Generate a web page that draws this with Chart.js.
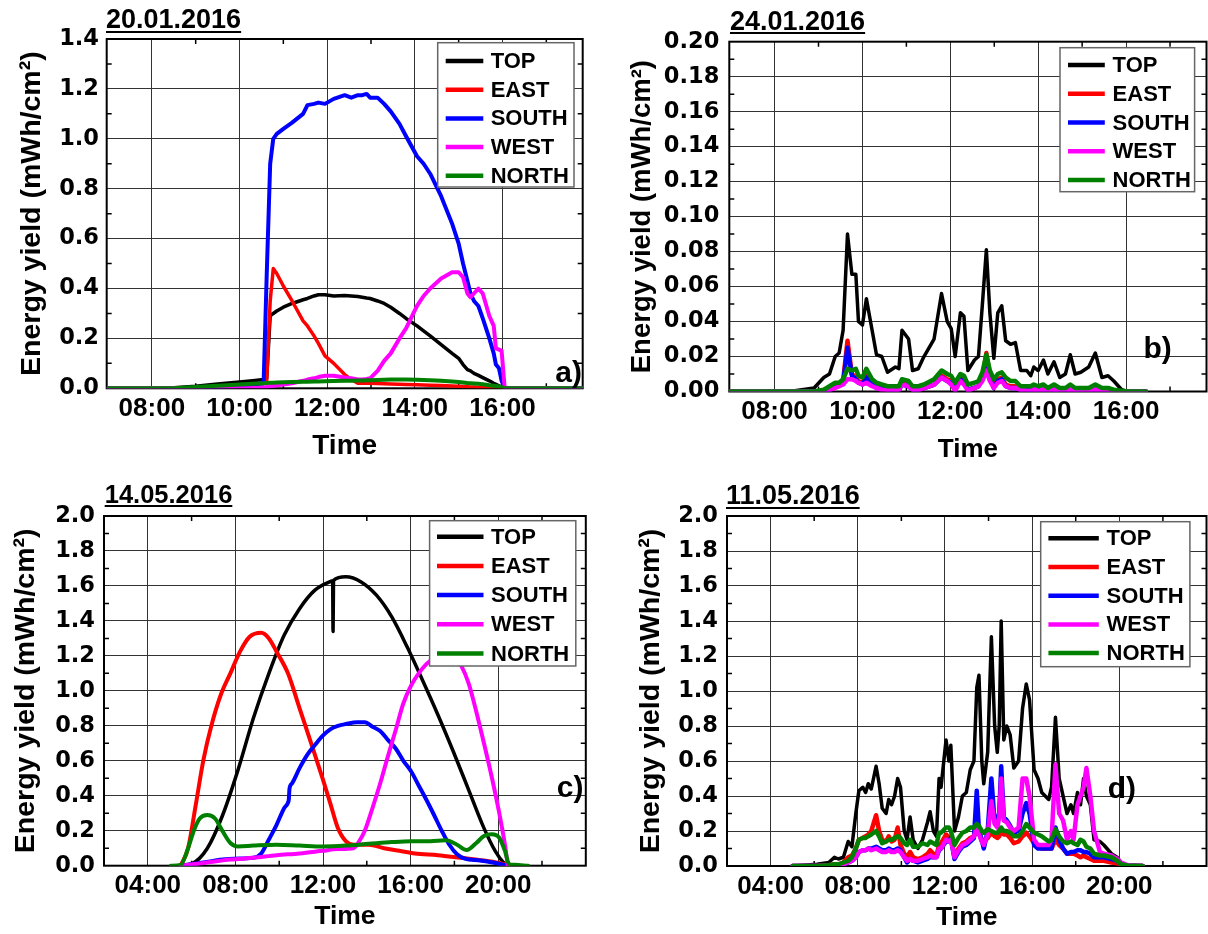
<!DOCTYPE html>
<html><head><meta charset="utf-8">
<script src="https://cdn.jsdelivr.net/npm/chart.js@4.4.0/dist/chart.umd.min.js"></script>
<style>
html,body{margin:0;padding:0;background:#fff;}
#wrap{position:relative;width:1208px;height:934px;overflow:hidden;background:#fff;}
canvas{position:absolute;}
</style></head><body><div id="wrap">
<canvas id="ca" width="604" height="467" style="left:0;top:0"></canvas>
<canvas id="cb" width="604" height="467" style="left:604px;top:0"></canvas>
<canvas id="cc" width="604" height="467" style="left:0;top:467px"></canvas>
<canvas id="cd" width="604" height="467" style="left:604px;top:467px"></canvas>
</div>
<script>
// ---------- labels ----------
const SERIES = ['TOP','EAST','SOUTH','WEST','NORTH'];
const COLORS = ['#000000','#ff0000','#0000ff','#ff00ff','#008000'];
const X_TICKS_JAN = [8,10,12,14,16];
const X_LABELS_JAN = ['08:00','10:00','12:00','14:00','16:00'];
const X_TICKS_MAY = [4,8,12,16,20];
const X_LABELS_MAY = ['04:00','08:00','12:00','16:00','20:00'];
const Y_TICKS_A = [0,0.2,0.4,0.6,0.8,1.0,1.2,1.4];
const Y_LABELS_A = ['0.0','0.2','0.4','0.6','0.8','1.0','1.2','1.4'];
const Y_TICKS_B = [0,0.02,0.04,0.06,0.08,0.10,0.12,0.14,0.16,0.18,0.20];
const Y_LABELS_B = ['0.00','0.02','0.04','0.06','0.08','0.10','0.12','0.14','0.16','0.18','0.20'];
const Y_TICKS_CD = [0,0.2,0.4,0.6,0.8,1.0,1.2,1.4,1.6,1.8,2.0];
const Y_LABELS_CD = ['0.0','0.2','0.4','0.6','0.8','1.0','1.2','1.4','1.6','1.8','2.0'];

// ---------- panel a) 20.01.2016 (time in hours) ----------
const aTime = [7.0,8.5,9.0,9.5,10.0,10.3,10.55,10.62,10.7,10.77,
  10.85,11.0,11.2,11.45,11.55,11.7,11.8,11.95,12.15,12.4,
  12.55,12.7,12.8,12.9,12.98,13.15,13.3,13.45,13.65,13.8,
  14.05,14.2,14.35,14.6,14.85,15.0,15.1,15.2,15.27,15.35,
  15.45,15.55,15.7,15.8,15.85,15.92,15.98,16.05,16.5,17.83];
const aTop = [0,0.002,0.008,0.017,0.025,0.03,0.035,0.04,0.29,0.30,
  0.31,0.325,0.34,0.355,0.36,0.37,0.375,0.375,0.37,0.372,
  0.37,0.368,0.365,0.362,0.36,0.35,0.34,0.325,0.30,0.28,
  0.25,0.23,0.21,0.175,0.14,0.12,0.095,0.075,0.07,0.06,
  0.052,0.043,0.03,0.02,0.016,0.01,0.005,0,0,0];
const aEast = [0,0,0.003,0.008,0.012,0.015,0.018,0.03,0.35,0.48,
  0.46,0.41,0.35,0.27,0.25,0.21,0.18,0.13,0.1,0.055,
  0.035,0.02,0.02,0.02,0.02,0.019,0.018,0.017,0.016,0.015,
  0.014,0.013,0.012,0.011,0.009,0.008,0.007,0.006,0.005,0.005,
  0.004,0.003,0.002,0.002,0.001,0.001,0,0,0,0];
const aSouth = [0,0,0.002,0.005,0.01,0.015,0.02,0.45,0.9,1.0,
  1.02,1.04,1.065,1.1,1.135,1.14,1.145,1.14,1.16,1.175,
  1.165,1.175,1.175,1.18,1.165,1.165,1.14,1.11,1.06,1.01,
  0.93,0.9,0.86,0.77,0.66,0.58,0.5,0.43,0.38,0.35,
  0.33,0.28,0.2,0.14,0.095,0.08,0.03,0,0,0];
const aWest = [0,0,0,0,0,0,0.003,0.005,0.008,0.01,
  0.012,0.015,0.02,0.03,0.035,0.04,0.045,0.05,0.05,0.043,
  0.04,0.035,0.035,0.037,0.04,0.07,0.11,0.14,0.2,0.24,
  0.33,0.37,0.4,0.44,0.465,0.465,0.445,0.38,0.365,0.38,
  0.4,0.38,0.29,0.25,0.16,0.155,0.15,0,0,0];
const aNorth = [0,0,0.005,0.01,0.015,0.018,0.02,0.021,0.022,0.022,
  0.023,0.024,0.025,0.026,0.026,0.027,0.027,0.028,0.029,0.03,
  0.03,0.031,0.031,0.032,0.032,0.033,0.034,0.035,0.035,0.035,
  0.034,0.033,0.032,0.03,0.027,0.025,0.023,0.021,0.02,0.019,
  0.018,0.016,0.012,0.01,0.009,0.007,0.005,0,0,0];

// ---------- panel b) 24.01.2016 ----------
const bTime = [7.0,8.0,8.46,8.9,9.12,9.25,9.38,9.47,9.56,9.66,
  9.76,9.85,9.91,10.0,10.09,10.22,10.32,10.44,10.57,10.75,
  10.83,10.9,11.05,11.14,11.27,11.4,11.63,11.8,11.93,12.02,
  12.11,12.23,12.31,12.4,12.55,12.64,12.73,12.82,12.9,12.99,
  13.08,13.17,13.26,13.37,13.48,13.6,13.74,13.83,13.9,14.0,
  14.12,14.22,14.36,14.49,14.62,14.73,14.84,14.97,15.15,15.3,
  15.45,15.59,15.72,15.9,16.03,16.45];
const bTop = [0,0,0.0005,0.002,0.008,0.01,0.02,0.022,0.035,0.09,
  0.067,0.067,0.04,0.038,0.053,0.035,0.021,0.02,0.011,0.014,
  0.013,0.035,0.03,0.012,0.013,0.02,0.03,0.056,0.04,0.036,
  0.02,0.045,0.043,0.012,0.018,0.02,0.05,0.081,0.045,0.019,
  0.045,0.049,0.029,0.027,0.028,0.012,0.012,0.009,0.014,0.012,
  0.018,0.01,0.017,0.008,0.01,0.021,0.01,0.011,0.014,0.022,
  0.008,0.009,0.006,0.001,0,0];
const bEast = [0,0,0,0,0,0.001,0.003,0.004,0.006,0.029,
  0.01,0.008,0.006,0.005,0.009,0.005,0.003,0.002,0.001,0.001,
  0.001,0.005,0.004,0.001,0.001,0.002,0.004,0.009,0.007,0.006,
  0.002,0.008,0.006,0.001,0.002,0.003,0.008,0.022,0.009,0.003,
  0.007,0.008,0.004,0.003,0.003,0.001,0.001,0.001,0.001,0.001,
  0.001,0.0005,0.001,0.0005,0.0005,0.001,0.0005,0.0005,0.0005,0.001,
  0.0005,0.0005,0,0,0,0];
const bSouth = [0,0,0,0,0,0.001,0.003,0.004,0.005,0.025,
  0.009,0.007,0.005,0.004,0.008,0.004,0.002,0.002,0.001,0.001,
  0.001,0.004,0.003,0.001,0.001,0.002,0.004,0.008,0.006,0.005,
  0.001,0.007,0.005,0.001,0.002,0.003,0.007,0.013,0.008,0.002,
  0.006,0.007,0.003,0.002,0.002,0.001,0.001,0.0005,0.001,0.0005,
  0.001,0.0005,0.001,0.0005,0.0005,0.001,0.0005,0.0005,0.0005,0.001,
  0.0005,0.0005,0,0,0,0];
const bWest = [0,0,0,0,0,0.001,0.002,0.003,0.004,0.007,
  0.007,0.006,0.005,0.004,0.005,0.003,0.002,0.001,0.001,0.001,
  0.001,0.004,0.003,0.001,0.001,0.002,0.004,0.008,0.006,0.004,
  0.0005,0.006,0.004,0.0005,0.002,0.003,0.006,0.012,0.006,0.002,
  0.005,0.006,0.003,0.002,0.002,0.001,0.0005,0.0005,0.001,0.0005,
  0.001,0.0005,0.001,0.0005,0.0005,0.001,0.0005,0.0005,0.0005,0.001,
  0.0005,0,0,0,0,0];
const bNorth = [0,0,0,0,0.001,0.003,0.005,0.005,0.007,0.013,
  0.012,0.013,0.009,0.008,0.013,0.007,0.005,0.004,0.003,0.003,
  0.003,0.007,0.006,0.003,0.003,0.004,0.007,0.012,0.01,0.009,
  0.005,0.01,0.009,0.004,0.005,0.006,0.011,0.021,0.012,0.007,
  0.01,0.011,0.008,0.006,0.006,0.003,0.003,0.003,0.004,0.003,
  0.004,0.002,0.004,0.002,0.002,0.004,0.002,0.002,0.002,0.004,
  0.002,0.002,0.001,0.0005,0,0];

// ---------- panel c) 14.05.2016 (each series has its own sample times) ----------
const cTopTime = [5.5,6.0,6.72,7.42,8.12,8.82,9.53,10.23,10.93,11.63,12.33,12.44,12.46,12.48,13.04,13.74,14.44,15.14,15.84,16.54,17.25,17.95,18.65,19.35,19.88,20.23,20.49];
const cTop = [0,0.01,0.1,0.29,0.548,0.843,1.1,1.319,1.47,1.576,1.625,1.63,1.34,1.632,1.652,1.623,1.547,1.423,1.252,1.062,0.862,0.653,0.434,0.215,0.08,0.02,0];
const cEastTime = [5.5,5.84,6.19,6.54,6.89,7.33,7.77,8.21,8.65,9.18,9.53,9.88,10.4,10.93,11.46,11.98,12.33,12.68,13.04,13.39,14.09,14.79,15.49,16.19,17.25,18.3,19.35,20.05,20.49];
const cEast = [0,0.1,0.348,0.605,0.795,0.976,1.1,1.224,1.309,1.332,1.3,1.224,1.1,0.9,0.7,0.5,0.358,0.215,0.14,0.12,0.12,0.1,0.085,0.07,0.06,0.045,0.03,0.015,0];
const cSouthTime = [5.5,6.37,7.42,7.95,8.82,9.18,9.53,9.88,10.23,10.4,10.44,10.47,10.58,10.93,11.28,11.63,11.98,12.33,12.68,13.04,13.56,13.91,14.26,14.61,14.96,15.32,15.67,16.02,16.37,16.72,17.07,17.42,17.77,18.12,18.47,19.18,19.88,20.4];
const cSouth = [0,0.015,0.035,0.04,0.045,0.07,0.15,0.234,0.33,0.36,0.38,0.44,0.47,0.558,0.634,0.69,0.742,0.78,0.8,0.81,0.82,0.82,0.795,0.77,0.72,0.67,0.6,0.54,0.459,0.377,0.29,0.2,0.12,0.065,0.04,0.03,0.015,0];
const cWestTime = [5.5,6.37,7.77,8.82,9.88,10.93,11.98,12.68,13.39,13.65,13.91,14.26,14.61,14.96,15.32,15.67,16.02,16.37,16.72,17.2,17.6,18.0,18.3,18.65,19.0,19.35,19.7,20.05,20.32,20.44];
const cWest = [0,0.012,0.035,0.045,0.06,0.07,0.085,0.095,0.1,0.14,0.2,0.33,0.47,0.624,0.776,0.929,1.03,1.1,1.153,1.2,1.22,1.2,1.147,1.043,0.881,0.7,0.51,0.3,0.11,0];
const cNorthTime = [5.05,5.5,5.84,6.1,6.37,6.72,7.07,7.42,7.77,8.12,8.82,9.88,10.93,11.98,13.04,14.09,15.14,16.02,16.9,17.6,18.12,18.56,19.0,19.35,19.7,20.05,20.32,20.49,20.75,21.37];
const cNorth = [0,0.005,0.1,0.2,0.27,0.29,0.27,0.196,0.13,0.11,0.115,0.12,0.115,0.11,0.115,0.125,0.135,0.14,0.14,0.145,0.12,0.09,0.13,0.17,0.18,0.16,0.08,0.01,0.005,0];

// ---------- panel d) 11.05.2016 ----------
const dTime = [5.01,6.13,6.67,6.93,7.11,7.34,7.56,7.73,7.91,8.05,
  8.23,8.36,8.48,8.62,8.84,8.98,9.12,9.3,9.42,9.55,
  9.69,9.83,9.96,10.13,10.26,10.4,10.54,10.76,10.97,11.2,
  11.32,11.47,11.61,11.73,11.82,12.05,12.18,12.27,12.44,12.62,
  12.8,12.98,13.16,13.33,13.46,13.56,13.69,13.78,13.96,14.13,
  14.28,14.4,14.49,14.58,14.7,14.84,14.99,15.16,15.38,15.56,
  15.73,15.88,16.09,16.27,16.44,16.76,16.89,17.07,17.24,17.42,
  17.6,17.78,17.9,18.08,18.22,18.36,18.49,18.67,18.84,19.11,
  19.29,19.64,19.9,20.08,20.36,21.07];
const dTop = [0,0.01,0.02,0.05,0.04,0.05,0.14,0.11,0.3,0.43,
  0.45,0.42,0.47,0.44,0.57,0.47,0.33,0.3,0.38,0.35,
  0.4,0.5,0.45,0.2,0.15,0.28,0.15,0.1,0.15,0.25,
  0.31,0.2,0.17,0.5,0.45,0.72,0.6,0.69,0.2,0.28,
  0.4,0.42,0.55,0.6,1.02,1.09,0.6,0.47,0.65,1.31,
  0.8,0.65,0.8,1.4,0.72,0.8,0.75,0.56,0.6,0.9,
  1.04,0.95,0.55,0.5,0.42,0.38,0.45,0.85,0.5,0.4,
  0.3,0.35,0.3,0.42,0.35,0.5,0.4,0.35,0.15,0.14,
  0.12,0.07,0.05,0.02,0.005,0];
const dEast = [0,0,0.005,0.01,0.01,0.02,0.05,0.06,0.1,0.15,
  0.16,0.17,0.18,0.2,0.29,0.2,0.15,0.14,0.17,0.14,
  0.15,0.22,0.12,0.07,0.05,0.08,0.05,0.04,0.05,0.07,
  0.09,0.07,0.06,0.12,0.13,0.18,0.16,0.17,0.05,0.1,
  0.13,0.14,0.16,0.17,0.2,0.2,0.14,0.14,0.16,0.19,
  0.17,0.16,0.17,0.2,0.18,0.18,0.16,0.13,0.14,0.17,
  0.19,0.17,0.13,0.11,0.1,0.1,0.1,0.15,0.12,0.1,
  0.07,0.07,0.07,0.06,0.05,0.06,0.05,0.04,0.03,0.03,
  0.03,0.02,0.015,0.01,0.003,0];
const dSouth = [0,0,0,0.005,0.005,0.01,0.02,0.03,0.05,0.08,
  0.09,0.09,0.1,0.1,0.11,0.1,0.09,0.09,0.1,0.09,
  0.09,0.1,0.09,0.05,0.02,0.04,0.03,0.02,0.03,0.04,
  0.05,0.05,0.05,0.09,0.1,0.14,0.14,0.16,0.04,0.08,
  0.11,0.12,0.14,0.16,0.43,0.2,0.15,0.1,0.2,0.5,
  0.25,0.27,0.3,0.57,0.28,0.26,0.23,0.19,0.2,0.3,
  0.36,0.3,0.12,0.1,0.1,0.1,0.1,0.22,0.15,0.1,
  0.07,0.08,0.08,0.09,0.09,0.08,0.08,0.07,0.05,0.05,
  0.05,0.04,0.03,0.01,0.003,0];
const dWest = [0,0,0,0.005,0.005,0.01,0.02,0.03,0.05,0.08,
  0.09,0.09,0.1,0.09,0.1,0.09,0.08,0.08,0.09,0.08,
  0.08,0.09,0.08,0.05,0.03,0.04,0.03,0.03,0.04,0.05,
  0.06,0.05,0.05,0.1,0.1,0.15,0.14,0.15,0.05,0.09,
  0.12,0.13,0.15,0.17,0.22,0.18,0.14,0.12,0.18,0.37,
  0.24,0.22,0.28,0.5,0.26,0.25,0.22,0.2,0.22,0.5,
  0.5,0.4,0.15,0.12,0.12,0.12,0.15,0.58,0.3,0.26,
  0.15,0.2,0.15,0.35,0.4,0.45,0.56,0.4,0.2,0.08,
  0.07,0.06,0.04,0.02,0.005,0];
const dNorth = [0,0,0.005,0.01,0.01,0.02,0.03,0.05,0.1,0.15,
  0.16,0.16,0.17,0.18,0.2,0.17,0.13,0.14,0.15,0.15,
  0.16,0.17,0.16,0.13,0.12,0.15,0.11,0.11,0.13,0.12,
  0.14,0.13,0.12,0.19,0.19,0.22,0.22,0.2,0.12,0.16,
  0.19,0.2,0.22,0.22,0.24,0.23,0.2,0.19,0.21,0.2,
  0.19,0.19,0.2,0.22,0.2,0.2,0.19,0.17,0.17,0.2,
  0.24,0.22,0.19,0.18,0.17,0.14,0.15,0.21,0.17,0.14,
  0.13,0.14,0.13,0.12,0.15,0.14,0.11,0.1,0.07,0.06,
  0.06,0.05,0.03,0.01,0.003,0];

// ---------- helpers ----------
const SANS = "'Liberation Sans', Arial, sans-serif";
const DEJAVU = "'DejaVu Sans', sans-serif";

function mk(times, vals, i, w, smooth) {
  const ds = {
    label: SERIES[i],
    data: times.map((t, k) => ({x: t, y: vals[k]})),
    borderColor: COLORS[i], backgroundColor: COLORS[i],
    borderWidth: w, pointRadius: 0, pointHoverRadius: 0, tension: 0,
    fill: false, order: 4 - i, borderJoinStyle: 'round', borderCapStyle: 'round'
  };
  if (smooth) ds.cubicInterpolationMode = 'monotone';
  return ds;
}

function panelPlugin(p) {
  return {
    id: 'panel_' + p.id,
    beforeDatasetsDraw(chart) {
      const {ctx, chartArea: a, scales: {x, y}} = chart;
      ctx.save();
      ctx.strokeStyle = '#000';
      ctx.lineWidth = 1.5;
      ctx.beginPath();
      p.xMinor.forEach(v => {
        const px = x.getPixelForValue(v);
        ctx.moveTo(px, a.bottom); ctx.lineTo(px, a.bottom - 5);
        ctx.moveTo(px, a.top); ctx.lineTo(px, a.top + 5);
      });
      p.yMinor.forEach(v => {
        const py = y.getPixelForValue(v);
        ctx.moveTo(a.left, py); ctx.lineTo(a.left + 5, py);
        ctx.moveTo(a.right, py); ctx.lineTo(a.right - 5, py);
      });
      ctx.stroke();
      ctx.lineWidth = 2;
      ctx.strokeRect(a.left, a.top, a.right - a.left, a.bottom - a.top);
      ctx.restore();
    },
    afterDraw(chart) {
      const {ctx} = chart;
      const L = p.legend;
      ctx.save();
      // legend box
      ctx.fillStyle = '#fff';
      ctx.fillRect(L.x, L.y, L.w, L.h);
      ctx.strokeStyle = '#666';
      ctx.lineWidth = 1.5;
      ctx.strokeRect(L.x, L.y, L.w, L.h);
      ctx.font = 'bold 22px ' + SANS;
      ctx.textBaseline = 'middle';
      ctx.textAlign = 'left';
      SERIES.forEach((name, i) => {
        const cy = L.y + L.r0 + i * L.dy;
        ctx.strokeStyle = COLORS[i];
        ctx.lineWidth = 4.5;
        ctx.beginPath();
        ctx.moveTo(L.x + L.sx, cy); ctx.lineTo(L.x + L.sx + L.sl, cy);
        ctx.stroke();
        ctx.fillStyle = '#000';
        ctx.fillText(name, L.x + L.tx, cy + 1);
      });
      // date title, underlined
      ctx.font = 'bold ' + p.dateSize + 'px ' + SANS;
      ctx.textBaseline = 'alphabetic';
      ctx.fillStyle = '#000';
      ctx.fillText(p.date, p.dateX, p.dateBase);
      const tw = ctx.measureText(p.date).width;
      ctx.fillRect(p.dateX, p.underY, tw, 2);
      // panel label
      ctx.font = 'bold 30px ' + SANS;
      ctx.textAlign = 'right';
      ctx.fillText(p.label, p.labelRight, p.labelBase);
      ctx.restore();
    }
  };
}

function buildPanel(p) {
  const canvas = document.getElementById(p.id);
  const W = canvas.width, H = canvas.height;
  const A = p.area;
  new Chart(canvas, {
    type: 'line',
    data: {datasets: p.datasets},
    options: {
      responsive: false, animation: false, devicePixelRatio: 1,
      events: [],
      layout: {padding: {left: 0, top: A.top, right: W - A.right, bottom: 0}},
      plugins: {legend: {display: false}, tooltip: {enabled: false}, title: {display: false}},
      scales: {
        x: {
          type: 'linear', min: p.xMin, max: p.xMax,
          afterBuildTicks: s => { s.ticks = p.xTicks.map(v => ({value: v})); },
          afterFit: s => { s.height = H - A.bottom; },
          ticks: {
            callback: (v, i) => p.xLabels[i],
            font: {family: SANS, weight: 'bold', size: 26},
            color: '#000', padding: p.xTickPad, autoSkip: false, maxRotation: 0
          },
          grid: {color: '#333', lineWidth: 1, drawTicks: false},
          border: {display: false},
          title: {display: true, text: 'Time', color: '#000',
            font: {family: SANS, weight: 'bold', size: p.xTitleSize},
            padding: {top: 0, bottom: p.xTitlePad}}
        },
        y: {
          min: 0, max: p.yMax,
          afterBuildTicks: s => { s.ticks = p.yTicks.map(v => ({value: v})); },
          afterFit: s => { s.width = A.left; },
          ticks: {
            callback: (v, i) => p.yLabels[i],
            font: {family: DEJAVU, weight: 'bold', size: 22.5},
            color: '#000', padding: p.yTickPad, autoSkip: false
          },
          grid: {color: '#333', lineWidth: 1, drawTicks: false},
          border: {display: false},
          title: {display: true, text: 'Energy yield (mWh/cm²)', color: '#000',
            font: {family: SANS, weight: 'bold', size: p.yTitleSize},
            padding: {top: p.yTitlePad, bottom: 0}}
        }
      }
    },
    plugins: [panelPlugin(p)]
  });
}

const halfSteps = (ticks) => ticks.slice(0, -1).map((v, i) => (v + ticks[i + 1]) / 2);

buildPanel({
  id: 'ca', area: {left: 106.7, top: 39, right: 582.7, bottom: 388.3},
  xMin: 6.97, xMax: 17.83, yMax: 1.4,
  xTicks: X_TICKS_JAN, xLabels: X_LABELS_JAN, yTicks: Y_TICKS_A, yLabels: Y_LABELS_A,
  xMinor: [9, 11, 13, 15, 17], yMinor: halfSteps(Y_TICKS_A),
  datasets: [mk(aTime, aTop, 0, 3.5), mk(aTime, aEast, 1, 3.5), mk(aTime, aSouth, 2, 4), mk(aTime, aWest, 3, 4), mk(aTime, aNorth, 4, 4)],
  xTickPad: 5, yTickPad: 7.7, xTitleSize: 28, xTitlePad: 3.5, yTitleSize: 28.5, yTitlePad: 15,
  legend: {x: 437.7, y: 42.7, w: 136.3, h: 144.3, sx: 8, sl: 37.6, tx: 53, r0: 18.3, dy: 28.7},
  date: '20.01.2016', dateX: 106, dateBase: 28.3, dateSize: 27, underY: 31,
  label: 'a)', labelRight: 582, labelBase: 381.7
});
buildPanel({
  id: 'cb', area: {left: 125.3, top: 41.7, right: 602.5, bottom: 391.5},
  xMin: 6.97, xMax: 17.83, yMax: 0.2,
  xTicks: X_TICKS_JAN, xLabels: X_LABELS_JAN, yTicks: Y_TICKS_B, yLabels: Y_LABELS_B,
  xMinor: [9, 11, 13, 15, 17], yMinor: halfSteps(Y_TICKS_B),
  datasets: [mk(bTime, bTop, 0, 3.5), mk(bTime, bEast, 1, 4.5), mk(bTime, bSouth, 2, 4.5), mk(bTime, bWest, 3, 4.5), mk(bTime, bNorth, 4, 4.5)],
  xTickPad: 5, yTickPad: 10, xTitleSize: 26, xTitlePad: 1.4, yTitleSize: 27.5, yTitlePad: 22,
  legend: {x: 456, y: 47.7, w: 134.6, h: 144, sx: 8, sl: 36.8, tx: 52.6, r0: 17.3, dy: 28.75},
  date: '24.01.2016', dateX: 126, dateBase: 30, dateSize: 27, underY: 32,
  label: 'b)', labelRight: 567.8, labelBase: 358
});
buildPanel({
  id: 'cc', area: {left: 104, top: 49, right: 585.8, bottom: 398.7},
  xMin: 2, xMax: 24, yMax: 2.0,
  xTicks: X_TICKS_MAY, xLabels: X_LABELS_MAY, yTicks: Y_TICKS_CD, yLabels: Y_LABELS_CD,
  xMinor: [6, 10, 14, 18, 22], yMinor: halfSteps(Y_TICKS_CD),
  datasets: [mk(cTopTime, cTop, 0, 3.5, true), mk(cEastTime, cEast, 1, 4, true), mk(cSouthTime, cSouth, 2, 4, true), mk(cWestTime, cWest, 3, 4, true), mk(cNorthTime, cNorth, 4, 4, true)],
  xTickPad: 5, yTickPad: 9, xTitleSize: 26.5, xTitlePad: 1.5, yTitleSize: 28.5, yTitlePad: 9.5,
  legend: {x: 429.6, y: 53.7, w: 146.2, h: 145.3, sx: 7.4, sl: 46.5, tx: 61.4, r0: 16, dy: 29.2},
  date: '14.05.2016', dateX: 104.7, dateBase: 36, dateSize: 25.5, underY: 38,
  label: 'c)', labelRight: 583.5, labelBase: 330
});
buildPanel({
  id: 'cd', area: {left: 123, top: 49, right: 602.5, bottom: 399},
  xMin: 2, xMax: 24, yMax: 2.0,
  xTicks: X_TICKS_MAY, xLabels: X_LABELS_MAY, yTicks: Y_TICKS_CD, yLabels: Y_LABELS_CD,
  xMinor: [6, 10, 14, 18, 22], yMinor: halfSteps(Y_TICKS_CD),
  datasets: [mk(dTime, dTop, 0, 3.5), mk(dTime, dEast, 1, 4.5), mk(dTime, dSouth, 2, 4.5), mk(dTime, dWest, 3, 4.5), mk(dTime, dNorth, 4, 4.5)],
  xTickPad: 5, yTickPad: 9, xTitleSize: 26.5, xTitlePad: 0, yTitleSize: 28.5, yTitlePad: 29.7,
  legend: {x: 436.7, y: 54.7, w: 149.2, h: 145, sx: 7.7, sl: 50.4, tx: 65.9, r0: 16.6, dy: 28.7},
  date: '11.05.2016', dateX: 122, dateBase: 37, dateSize: 27, underY: 40,
  label: 'd)', labelRight: 532, labelBase: 331
});
</script>
</body></html>
